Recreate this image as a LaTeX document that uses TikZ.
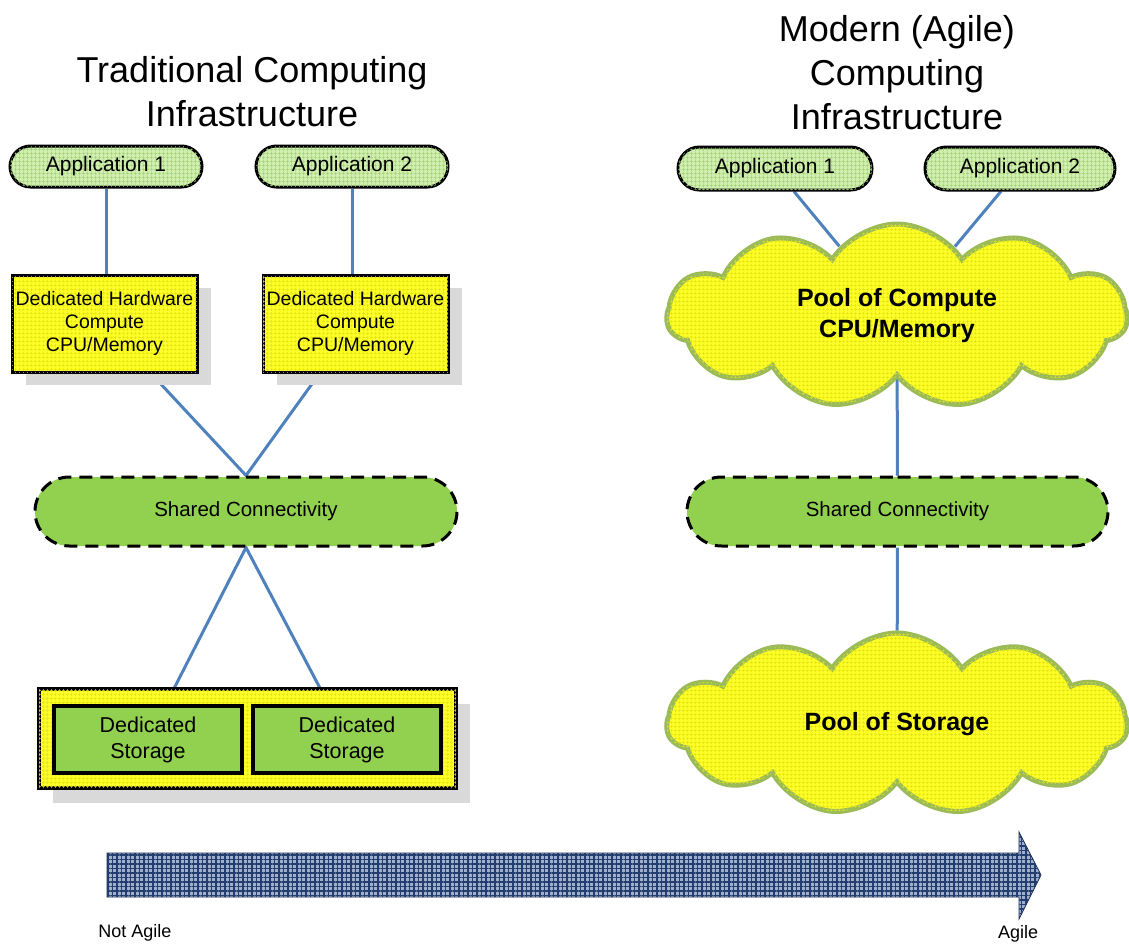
\documentclass[tikz,border=0pt]{standalone}
\usepackage{fontspec}
\setmainfont{Liberation Sans}
\usetikzlibrary{positioning,calc,backgrounds,shapes.misc,shapes.symbols,shadows,patterns.meta}
\definecolor{INF-YELLOW}{RGB}{255,255,40}
\definecolor{INF-YGRID}{RGB}{225,225,20}
\definecolor{INF-APP}{RGB}{208,238,175}
\definecolor{INF-AGRID}{RGB}{160,208,110}
\definecolor{INF-GREEN}{RGB}{146,208,80}
\definecolor{INF-EDGE}{RGB}{155,187,89}
\definecolor{INF-LINK}{RGB}{79,129,189}
\definecolor{INF-SHADE}{RGB}{217,217,217}
\definecolor{INF-NAVY}{RGB}{35,62,110}
\definecolor{INF-STEEL}{RGB}{160,176,204}

\tikzset{
  appbox/.style={rounded rectangle, draw=black, line width=3pt, fill=INF-APP,
    postaction={pattern={Hatch[angle=0,distance=4pt,line width=0.6pt]}, pattern color=INF-AGRID},
    minimum width=192, minimum height=41, inner sep=0pt, font=\fontsize{21}{25}\selectfont},
  hwbox/.style={rectangle, draw=black, line width=3pt, fill=INF-YELLOW,
    postaction={pattern={Hatch[angle=0,distance=4pt,line width=0.5pt]}, pattern color=INF-YGRID},
    drop shadow={shadow xshift=14pt, shadow yshift=-13pt, fill=INF-SHADE, opacity=1},
    minimum width=185, minimum height=97, inner sep=0pt, align=center,
    font=\fontsize{19.5}{23}\selectfont},
  busbox/.style={rounded rectangle, draw=black, line width=3pt, dash pattern=on 13pt off 8pt,
    fill=INF-GREEN, minimum width=422, minimum height=69, inner sep=0pt,
    font=\fontsize{20.5}{25}\selectfont},
  diskbox/.style={rectangle, draw=black, line width=3.5pt, fill=INF-GREEN,
    minimum width=188, minimum height=67, inner sep=0pt, align=center,
    font=\fontsize{21.5}{26}\selectfont},
  poolcloud/.style={cloud, cloud puffs=11, cloud puff arc=115, aspect=2.5,
    draw=INF-EDGE, line width=5pt, fill=INF-YELLOW,
    postaction={pattern={Hatch[angle=0,distance=4pt,line width=0.5pt]}, pattern color=INF-YGRID},
    minimum width=460, minimum height=184, inner sep=0pt, align=center,
    font=\fontsize{25}{31}\selectfont\bfseries},
  link/.style={INF-LINK, line width=3pt},
  heading/.style={align=center, font=\fontsize{36}{44}\selectfont}
}

\begin{document}
\begin{tikzpicture}[x=1pt, y=-1pt]
  \useasboundingbox (0,0) rectangle (1129,945);

  % Traditional side
  \node[heading] (ltitle) at (252,92) {Traditional Computing\\Infrastructure};
  \node[appbox] (lapp1) at (106,166.5) {Application 1};
  \node[appbox] (lapp2) at (352,166.5) {Application 2};
  \node[hwbox] (lhw1) at (104.5,323.5) {Dedicated Hardware\\Compute\\CPU/Memory};
  \node[hwbox] (lhw2) at (355.5,323.5) {Dedicated Hardware\\Compute\\CPU/Memory};
  \node[busbox] (lbus) at (246,511.5) {Shared Connectivity};

  % Storage tray with two disks
  \node[rectangle, draw=black, line width=3.5pt, fill=INF-YELLOW,
    postaction={pattern={Hatch[angle=0,distance=4pt,line width=0.5pt]}, pattern color=INF-YGRID},
    drop shadow={shadow xshift=14pt, shadow yshift=-15pt, fill=INF-SHADE, opacity=1},
    minimum width=417, minimum height=99] (tray) at (247.5,738.5) {};
  \node[diskbox] (disk1) at (148,739.5) {Dedicated\\Storage};
  \node[diskbox] (disk2) at (347,739.5) {Dedicated\\Storage};

  % Agile side
  \node[heading] (rtitle) at (897,73) {Modern (Agile)\\Computing\\Infrastructure};
  \node[appbox, minimum width=194, minimum height=43] (rapp1) at (775,168.5) {Application 1};
  \node[appbox, minimum width=190, minimum height=43] (rapp2) at (1020,168.5) {Application 2};
  \node[poolcloud] (cpu) at (897,316) {Pool of Compute\\CPU/Memory};
  \node[busbox, minimum width=421] (rbus) at (897.5,511.5) {Shared Connectivity};
  \node[poolcloud, minimum height=182] (store) at (897,724) {Pool of Storage};

  % Connectors behind the boxes
  \begin{scope}[on background layer]
    \draw[link] (lapp1.south) -- (lapp1.south |- lhw1.north);
    \draw[link] (lapp2.south) -- (lapp2.south |- lhw2.north);
    \draw[link] (lhw1) -- (lbus.north) -- (lhw2);
    \draw[link] (disk1) -- (lbus.south) -- (disk2);
    \draw[link] (rapp1) -- (cpu);
    \draw[link] (rapp2) -- (cpu);
    \draw[link] (cpu) -- (rbus);
    \draw[link] (rbus) -- (store);
  \end{scope}

  % Agility arrow
  \filldraw[draw=INF-NAVY!70!black, line width=0.8pt, fill=INF-STEEL,
    postaction={pattern={Hatch[angle=0,distance=4.5pt,line width=1.4pt]}, pattern color=INF-NAVY}]
    (107,853) -- (1019,853) -- (1019,832) -- (1041,875) -- (1019,919) -- (1019,897) -- (107,897) -- cycle;
  \node[font=\fontsize{18}{22}\selectfont] (slow) at (135,933) {Not Agile};
  \node[font=\fontsize{18}{22}\selectfont] (fast) at (1018,934) {Agile};
\end{tikzpicture}
\end{document}
